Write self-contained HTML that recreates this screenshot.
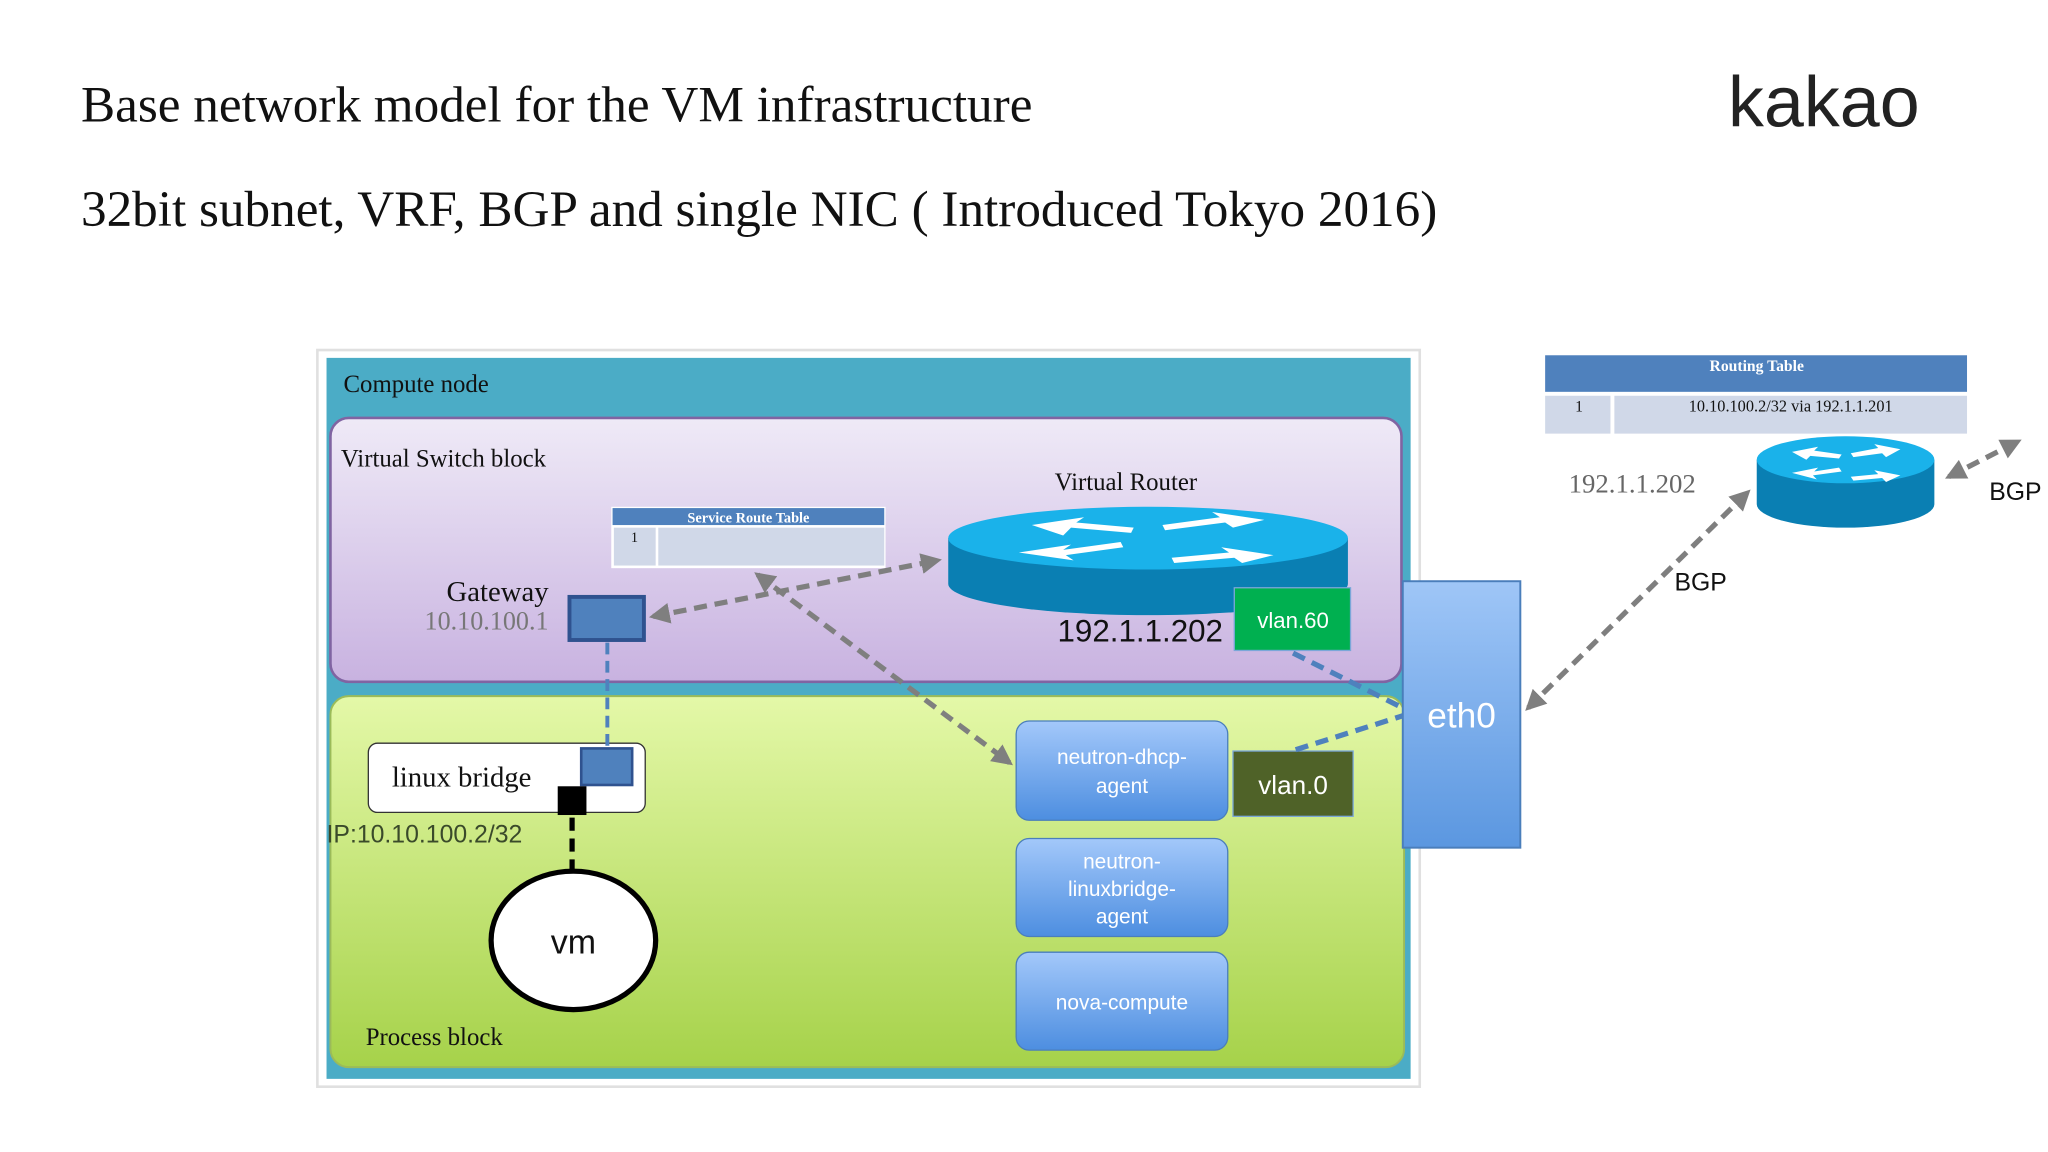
<!DOCTYPE html>
<html><head><meta charset="utf-8"><style>
html,body{margin:0;padding:0;background:#fff;}
svg{display:block;}
.serif{font-family:"Liberation Serif",serif;}
.sans{font-family:"Liberation Sans","DejaVu Sans",sans-serif;}
</style></head><body>
<svg width="2048" height="1152" viewBox="0 0 1568 882" xmlns="http://www.w3.org/2000/svg">
<defs>
<linearGradient id="lav" x1="0" y1="0" x2="0" y2="1"><stop offset="0" stop-color="#efeaf7"/><stop offset="1" stop-color="#c8b2e0"/></linearGradient>
<linearGradient id="grn" x1="0" y1="0" x2="0" y2="1"><stop offset="0" stop-color="#e4f8a8"/><stop offset="1" stop-color="#a6d24a"/></linearGradient>
<linearGradient id="eth" x1="0" y1="0" x2="0" y2="1"><stop offset="0" stop-color="#9fc6f7"/><stop offset="1" stop-color="#5b97e0"/></linearGradient>
<linearGradient id="ag" x1="0" y1="0" x2="0" y2="1"><stop offset="0" stop-color="#a3c8fa"/><stop offset="1" stop-color="#4d8ee0"/></linearGradient>
<marker id="ga" viewBox="0 0 10 10" refX="8" refY="5" markerWidth="4" markerHeight="4" orient="auto-start-reverse"><path d="M0,0 L10,5 L0,10 z" fill="#7f7f7f"/></marker>
</defs>

<text x="62" y="93" class="serif" font-size="39.2" fill="#111">Base network model for the VM infrastructure</text>
<text x="62" y="173" class="serif" font-size="39.2" fill="#111">32bit subnet, VRF, BGP and single NIC ( Introduced Tokyo 2016)</text>
<text x="1323" y="97" class="sans" font-size="55" fill="#222">kakao</text>

<rect x="243" y="268" width="844" height="564" fill="#fff" stroke="#e0e0e0" stroke-width="2"/>
<rect x="250" y="274" width="830" height="552" fill="#4bacc6"/>
<text x="263" y="300" class="serif" font-size="19" fill="#111">Compute node</text>

<rect x="253" y="320" width="820" height="202" rx="14" fill="url(#lav)" stroke="#8064a2" stroke-width="2"/>
<text x="261" y="357" class="serif" font-size="19" fill="#111">Virtual Switch block</text>
<text x="862" y="375" text-anchor="middle" class="serif" font-size="19" fill="#111">Virtual Router</text>

<rect x="253" y="533" width="822" height="284" rx="14" fill="url(#grn)" stroke="#9bbb59" stroke-width="1.5"/>

<rect x="468" y="388" width="210" height="47" fill="#fff"/>
<rect x="469" y="389" width="208" height="13" fill="#4f81bd"/>
<text x="573" y="400" text-anchor="middle" class="serif" font-size="11" font-weight="bold" fill="#fff">Service Route Table</text>
<rect x="470" y="404" width="32" height="29" fill="#d0d8e8"/>
<rect x="504" y="404" width="173" height="29" fill="#d0d8e8"/>
<text x="483" y="415" class="serif" font-size="11" fill="#111">1</text>

<path d="M726,412 L726,447 A153,24 0 0 0 1032,447 L1032,412 Z" fill="#0a7fb3"/>
<ellipse cx="879" cy="412" rx="153" ry="24" fill="#1ab2ea"/>
<g fill="#fff">
<polygon points="790,402 830,396 824,400 868,404 866,408 820,404 814,410"/>
<polygon points="968,398 928,392 934,396 890,402 892,406 938,400 944,404"/>
<polygon points="780,423 820,417 814,421 858,415 860,419 816,425 822,429"/>
<polygon points="975,425 935,419 941,423 897,427 899,431 945,427 951,431"/>
</g>

<text x="873" y="491" text-anchor="middle" class="sans" font-size="24" fill="#111">192.1.1.202</text>
<rect x="945" y="450" width="89" height="48" fill="#00b050" stroke="#7aa7d8" stroke-width="1"/>
<text x="990" y="481" text-anchor="middle" class="sans" font-size="17" fill="#fff">vlan.60</text>

<text x="420" y="460" text-anchor="end" class="serif" font-size="22" fill="#111">Gateway</text>
<text x="420" y="482" text-anchor="end" class="serif" font-size="20" fill="#777">10.10.100.1</text>
<rect x="436" y="457" width="57" height="33" fill="#4f81bd" stroke="#2f528f" stroke-width="3"/>

<rect x="1074" y="445" width="90" height="204" fill="url(#eth)" stroke="#4a7ebb" stroke-width="1.5"/>
<text x="1119" y="557" text-anchor="middle" class="sans" font-size="27" fill="#fff">eth0</text>

<rect x="282" y="569" width="212" height="53" rx="7" fill="#fff" stroke="#333" stroke-width="1"/>
<text x="300" y="602" class="serif" font-size="22" fill="#111">linux bridge</text>
<rect x="445" y="573" width="39" height="28" fill="#4f81bd" stroke="#2f528f" stroke-width="2"/>
<rect x="427" y="602" width="22" height="22" fill="#000"/>
<text x="250" y="645" class="sans" font-size="19" fill="#3a4a2a">IP:10.10.100.2/32</text>

<ellipse cx="439" cy="720" rx="63" ry="53" fill="#fff" stroke="#000" stroke-width="4"/>
<text x="439" y="730" text-anchor="middle" class="sans" font-size="26" fill="#111">vm</text>
<text x="280" y="800" class="serif" font-size="19" fill="#111">Process block</text>

<rect x="778" y="552" width="162" height="76" rx="10" fill="url(#ag)" stroke="#4a7ebb"/>
<text x="859" y="585" text-anchor="middle" class="sans" font-size="16" fill="#fff">neutron-dhcp-</text>
<text x="859" y="607" text-anchor="middle" class="sans" font-size="16" fill="#fff">agent</text>
<rect x="778" y="642" width="162" height="75" rx="10" fill="url(#ag)" stroke="#4a7ebb"/>
<text x="859" y="665" text-anchor="middle" class="sans" font-size="16" fill="#fff">neutron-</text>
<text x="859" y="686" text-anchor="middle" class="sans" font-size="16" fill="#fff">linuxbridge-</text>
<text x="859" y="707" text-anchor="middle" class="sans" font-size="16" fill="#fff">agent</text>
<rect x="778" y="729" width="162" height="75" rx="10" fill="url(#ag)" stroke="#4a7ebb"/>
<text x="859" y="773" text-anchor="middle" class="sans" font-size="16" fill="#fff">nova-compute</text>
<rect x="944" y="575" width="92" height="50" fill="#4f6228" stroke="#7aa7d8" stroke-width="1"/>
<text x="990" y="608" text-anchor="middle" class="sans" font-size="20" fill="#fff">vlan.0</text>

<g fill="none" stroke-width="4" stroke-dasharray="10,6">
<line x1="465" y1="492" x2="465" y2="572" stroke="#4f81bd" stroke-width="3" stroke-dasharray="9,5"/>
<line x1="438" y1="626" x2="438" y2="666" stroke="#000" stroke-width="4"/>
<line x1="990" y1="500" x2="1074" y2="542" stroke="#4f81bd"/>
<line x1="992" y1="574" x2="1074" y2="548" stroke="#4f81bd"/>
<line x1="500" y1="472" x2="718" y2="429" stroke="#7f7f7f" marker-start="url(#ga)" marker-end="url(#ga)"/>
<line x1="580" y1="440" x2="773" y2="584" stroke="#7f7f7f" marker-start="url(#ga)" marker-end="url(#ga)"/>
<line x1="1170" y1="542" x2="1338" y2="377" stroke="#7f7f7f" marker-start="url(#ga)" marker-end="url(#ga)"/>
<line x1="1492" y1="365" x2="1545" y2="338" stroke="#7f7f7f" marker-start="url(#ga)" marker-end="url(#ga)"/>
</g>

<rect x="1183" y="272" width="323" height="28" fill="#4f81bd"/>
<text x="1345" y="284" text-anchor="middle" class="serif" font-size="12" font-weight="bold" fill="#fff">Routing Table</text>
<rect x="1183" y="303" width="50" height="29" fill="#d0d8e8"/>
<rect x="1236" y="303" width="270" height="29" fill="#d0d8e8"/>
<text x="1206" y="315" class="serif" font-size="12" fill="#111">1</text>
<text x="1371" y="315" text-anchor="middle" class="serif" font-size="12.5" fill="#111">10.10.100.2/32  via 192.1.1.201</text>
<text x="1201" y="377" class="serif" font-size="20.5" fill="#666">192.1.1.202</text>

<path d="M1345,352 L1345,386 A68,18 0 0 0 1481,386 L1481,352 Z" fill="#0a7fb3"/>
<ellipse cx="1413" cy="352" rx="68" ry="18" fill="#1ab2ea"/>
<g fill="#fff">
<polygon points="1372,346 1392,342 1389,345 1410,348 1408,351 1386,349 1383,352"/>
<polygon points="1455,344 1435,340 1438,343 1417,347 1419,350 1441,347 1444,350"/>
<polygon points="1372,362 1392,358 1389,361 1408,358 1410,361 1388,364 1391,367"/>
<polygon points="1455,364 1435,360 1438,363 1417,365 1419,368 1441,366 1444,369"/>
</g>

<text x="1282" y="452" class="sans" font-size="19" fill="#111">BGP</text>
<text x="1523" y="383" class="sans" font-size="19" fill="#111">BGP</text>
</svg>
</body></html>
